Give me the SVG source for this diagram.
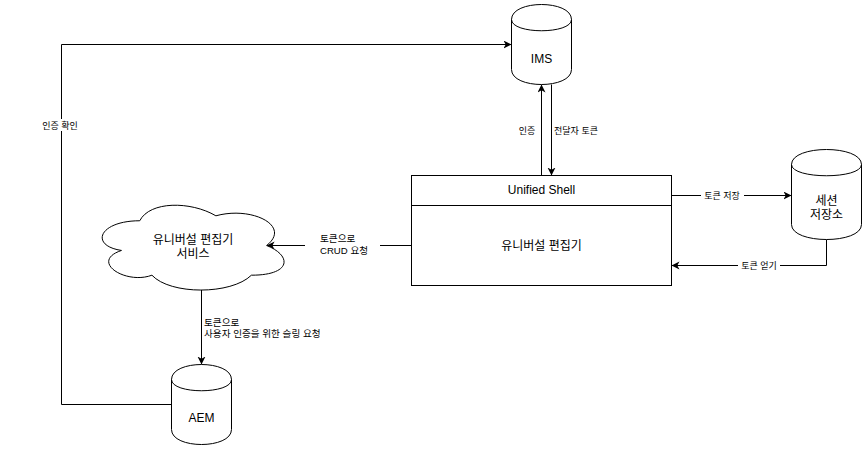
<svg xmlns="http://www.w3.org/2000/svg" width="867" height="451" viewBox="0 0 867 451">
<style>
.shape{fill:#fff;stroke:#000;stroke-width:1}
.edge{fill:none;stroke:#000;stroke-width:1}
.t{font-family:"Liberation Sans","Noto Sans CJK KR",sans-serif;font-size:12px;fill:#000;text-anchor:middle}
.l{font-family:"Liberation Sans","Noto Sans CJK KR",sans-serif;font-size:9px;fill:#000}
.lg{font-size:9.6px}
.c{text-anchor:middle}
.bg{fill:#fff;stroke:none}
</style>
<defs>
<marker id="arr" markerUnits="userSpaceOnUse" markerWidth="10" markerHeight="10" refX="8" refY="4" orient="auto">
<path d="M0,0 L8,4 L0,8 L2.2,4 Z" fill="#000"/>
</marker>
</defs>
<rect width="867" height="451" fill="#fff"/>
<g id="connectors">
<path class="edge" d="M171.5,404.5 H61.5 V44.5 H511.5" marker-end="url(#arr)"/>
<path class="edge" d="M541.5,175.5 V84.5" marker-end="url(#arr)"/>
<path class="edge" d="M551.5,84.5 V175.5" marker-end="url(#arr)"/>
<path class="edge" d="M671.5,195.5 H791.5" marker-end="url(#arr)"/>
<path class="edge" d="M826.5,239.5 V265.5 H671.5" marker-end="url(#arr)"/>
<path class="edge" d="M411.5,245.5 H266.6" marker-end="url(#arr)"/>
<path class="edge" d="M201.5,290 V364.5" marker-end="url(#arr)"/>
<g id="edge-labels">
<rect class="bg" x="38" y="119" width="44" height="12"/>
<text class="l c" x="60" y="128.5">인증 확인</text>
<text class="l c" x="527" y="133.5">인증</text>
<text class="l c" x="576" y="133.5">전달자 토큰</text>
<rect class="bg" x="701" y="189" width="43" height="12"/>
<text class="l c" x="722" y="198.5">토큰 저장</text>
<rect class="bg" x="738" y="259" width="42" height="12"/>
<text class="l c" x="759" y="268.5">토큰 얻기</text>
<rect class="bg" x="305" y="231" width="75" height="28"/>
<text class="l lg" x="320" y="241.5">토큰으로</text>
<text class="l lg" x="320" y="253.5">CRUD 요청</text>
<text class="l lg" x="204" y="325.5">토큰으로</text>
<text class="l lg" x="204" y="336.5">사용자 인증을 위한 슬링 요청</text>
</g>
</g>
<g id="ims">
<path class="shape" d="M511.5,19.5 C511.5,-0.5 571.5,-0.5 571.5,19.5 L571.5,69.5 C571.5,89.5 511.5,89.5 511.5,69.5 Z M511.5,19.5 C511.5,34.5 571.5,34.5 571.5,19.5"/>
<text class="t" x="541.5" y="63">IMS</text>
</g>
<g id="unified-shell">
<rect class="shape" x="411.5" y="175.5" width="260" height="110"/>
<line class="edge" x1="411.5" y1="205.5" x2="671.5" y2="205.5"/>
<text class="t" x="541.5" y="194">Unified Shell</text>
<text class="t" x="541.5" y="250">유니버설 편집기</text>
</g>
<g id="session-store">
<path class="shape" d="M791.5,164.5 C791.5,144.5 861.5,144.5 861.5,164.5 L861.5,224.5 C861.5,244.5 791.5,244.5 791.5,224.5 Z M791.5,164.5 C791.5,179.5 861.5,179.5 861.5,164.5"/>
<text class="t" x="826.5" y="205">세션</text>
<text class="t" x="826.5" y="219">저장소</text>
</g>
<g id="ue-service">
<path class="shape" d="M139.75,220.75 C99.15,220.75 89,245.5 121.48,250.45 C89,261.34 125.54,285.1 151.93,275.2 C170.2,295 231.1,295 251.4,275.2 C292,275.2 292,255.4 266.6,245.5 C292,225.7 251.4,205.9 215.9,215.8 C190.5,200.95 149.9,200.95 139.75,220.75 Z"/>
<text class="t" x="193" y="243.5">유니버설 편집기</text>
<text class="t" x="193" y="257.5">서비스</text>
</g>
<g id="aem">
<path class="shape" d="M171.5,379.5 C171.5,359.5 231.5,359.5 231.5,379.5 L231.5,429.5 C231.5,449.5 171.5,449.5 171.5,429.5 Z M171.5,379.5 C171.5,394.5 231.5,394.5 231.5,379.5"/>
<text class="t" x="201.5" y="422">AEM</text>
</g>
</svg>
